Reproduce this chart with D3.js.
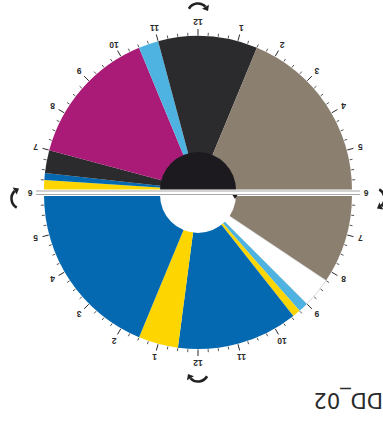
<!DOCTYPE html>
<html>
<head>
<meta charset="utf-8">
<script src="https://cdn.jsdelivr.net/npm/d3@7"></script>
<style>
  html, body { margin: 0; padding: 0; background: #fff; }
  svg { display: block; }
</style>
</head>
<body>
<div id="chart"></div>
<script>
// 24h activity clock, hours counted from midnight (values > 24 are after midnight)
const segStart    = [6, 6.25, 6.42, 7, 10.5, 11, 13.5, 20.25, 21, 21.25, 21.45, 24.5, 25.5];
const segEnd      = [6.25, 6.42, 7, 10.5, 11, 13.5, 20.25, 21, 21.25, 21.45, 24.5, 25.5, 30];
const segCategory = ["yellow", "blue", "dark", "magenta", "lightblue", "dark", "taupe",
                     "none", "lightblue", "yellow", "blue", "yellow", "blue"];
const hourLabels  = ["12", "1", "2", "3", "4", "5", "6", "7", "8", "9", "10", "11"];
const title = "DD_02";

const colors = {
  yellow: "#fdd500",
  blue: "#0469b1",
  dark: "#2b2b2e",
  magenta: "#a91b77",
  lightblue: "#4fb3e1",
  taupe: "#8b7f70",
  none: "#ffffff"
};

const width = 383, height = 430;
const R = 154, rCenter = 38;
const cx = 185;
const halves = [
  { from: 6, to: 18, cy: 240, hub: "#1d1a1f" },   // day half
  { from: 18, to: 30, cy: 235, hub: "#ffffff" }   // night half
];

const svg = d3.select("#chart").append("svg")
  .attr("width", width)
  .attr("height", height);

// the whole picture is shown turned upside down
const g = svg.append("g")
  .attr("transform", `rotate(180,${width / 2},${height / 2})`);

const angle = d3.scaleLinear().domain([0, 24]).range([0, 2 * Math.PI]);
const arc = d3.arc();
const pt = (cy, a, r) => [cx + r * Math.sin(a), cy - r * Math.cos(a)];

// wedges, split by half
halves.forEach(h => {
  const segs = segStart.map((s, i) => ({
    s: Math.max(s, h.from), e: Math.min(segEnd[i], h.to), cat: segCategory[i]
  })).filter(d => d.e > d.s);

  g.append("g")
    .attr("transform", `translate(${cx},${h.cy})`)
    .selectAll("path")
    .data(segs)
    .join("path")
    .attr("d", d => arc({ innerRadius: 0, outerRadius: R, startAngle: angle(d.s), endAngle: angle(d.e) }))
    .attr("fill", d => colors[d.cat])
    .attr("stroke", d => d.cat === "none" ? "#c8c8c8" : "none")
    .attr("stroke-width", 0.7);

  // hub
  g.append("path")
    .attr("transform", `translate(${cx},${h.cy})`)
    .attr("d", arc({ innerRadius: 0, outerRadius: rCenter, startAngle: angle(h.from), endAngle: angle(h.to) }))
    .attr("fill", h.hub);

  // ticks every quarter hour
  const ticks = d3.range(h.from * 4 + 1, h.to * 4).map(q => q / 4);
  g.append("g")
    .selectAll("line")
    .data(ticks)
    .join("line")
    .each(function(t) {
      const a = angle(t);
      const major = Number.isInteger(t);
      const p0 = pt(h.cy, a, R + 0.5), p1 = pt(h.cy, a, R + (major ? 7 : 3.5));
      d3.select(this).attr("x1", p0[0]).attr("y1", p0[1]).attr("x2", p1[0]).attr("y2", p1[1]);
    })
    .attr("stroke", "#2a2a2a")
    .attr("stroke-width", d => Number.isInteger(d) ? 1 : 0.8);

  // hour labels
  const hours = d3.range(h.from + 1, h.to);
  g.append("g")
    .selectAll("text")
    .data(hours)
    .join("text")
    .each(function(t) {
      const p = pt(h.cy, angle(t), 168);
      d3.select(this).attr("x", p[0]).attr("y", p[1]);
    })
    .attr("text-anchor", "middle")
    .attr("dominant-baseline", "central")
    .attr("font-family", "Liberation Sans, Arial, sans-serif")
    .attr("font-size", 8.5)
    .attr("font-weight", "bold")
    .attr("fill", "#2a2a2a")
    .text(t => hourLabels[t % 12]);
});

// divider between the two halves
const midY = (halves[0].cy + halves[1].cy) / 2;
g.append("rect")
  .attr("x", cx - 162).attr("width", 324)
  .attr("y", halves[1].cy - 1).attr("height", halves[0].cy - halves[1].cy + 1.5)
  .attr("fill", "#fff");
[halves[1].cy + 0.5, halves[0].cy - 1].forEach(y => {
  g.append("line")
    .attr("x1", cx - 162).attr("x2", cx + 162)
    .attr("y1", y).attr("y2", y)
    .attr("stroke", "#a8a8a8")
    .attr("stroke-width", 1.1);
});

// small pointer on the night hub
const cyN = halves[1].cy;
g.append("path")
  .attr("d", `M${cx - 39.5},${cyN}L${cx - 34.5},${cyN}L${cx - 37},${cyN - 4}Z`)
  .attr("fill", "#1d1a1f");

// "6" labels on the divider
[6, 18].forEach(t => {
  const p = pt(midY, angle(t), 168);
  g.append("text")
    .attr("x", p[0]).attr("y", p[1])
    .attr("text-anchor", "middle")
    .attr("dominant-baseline", "central")
    .attr("font-family", "Liberation Sans, Arial, sans-serif")
    .attr("font-size", 8.5)
    .attr("font-weight", "bold")
    .attr("fill", "#2a2a2a")
    .text("6");
});

// clockwise direction arrows
const arrowAt = [
  { t: 0, cy: halves[1].cy, dy: 0 },
  { t: 6, cy: midY, dy: -6 },
  { t: 12, cy: halves[0].cy, dy: 0 },
  { t: 18, cy: midY, dy: -6 }
];
arrowAt.forEach(d => {
  const a = angle(d.t);
  const pc = pt(d.cy + d.dy, a, 176);
  const rho = 10.5;
  const th0 = a - Math.PI / 3, th1 = a + Math.PI / 3;
  const p = d3.path();
  p.arc(pc[0], pc[1], rho, th0 - Math.PI / 2, th1 - Math.PI / 2 - 0.25);
  g.append("path")
    .attr("d", p.toString())
    .attr("fill", "none")
    .attr("stroke", "#222")
    .attr("stroke-width", 2.6);
  // arrow head
  const e = [pc[0] + rho * Math.sin(th1 - 0.25), pc[1] - rho * Math.cos(th1 - 0.25)];
  const tx = Math.cos(th1), ty = Math.sin(th1);
  const nx = Math.sin(th1), ny = -Math.cos(th1);
  const tip = [e[0] + tx * 5, e[1] + ty * 5];
  g.append("path")
    .attr("d", `M${e[0] + nx * 4},${e[1] + ny * 4}L${tip[0]},${tip[1]}L${e[0] - nx * 4},${e[1] - ny * 4}Z`)
    .attr("fill", "#222");
});

// title
g.append("text")
  .attr("x", 0).attr("y", 37)
  .attr("font-family", "DejaVu Sans, sans-serif")
  .attr("font-size", 21)
  .attr("fill", "#2a2a2a")
  .text(title);
</script>
</body>
</html>
